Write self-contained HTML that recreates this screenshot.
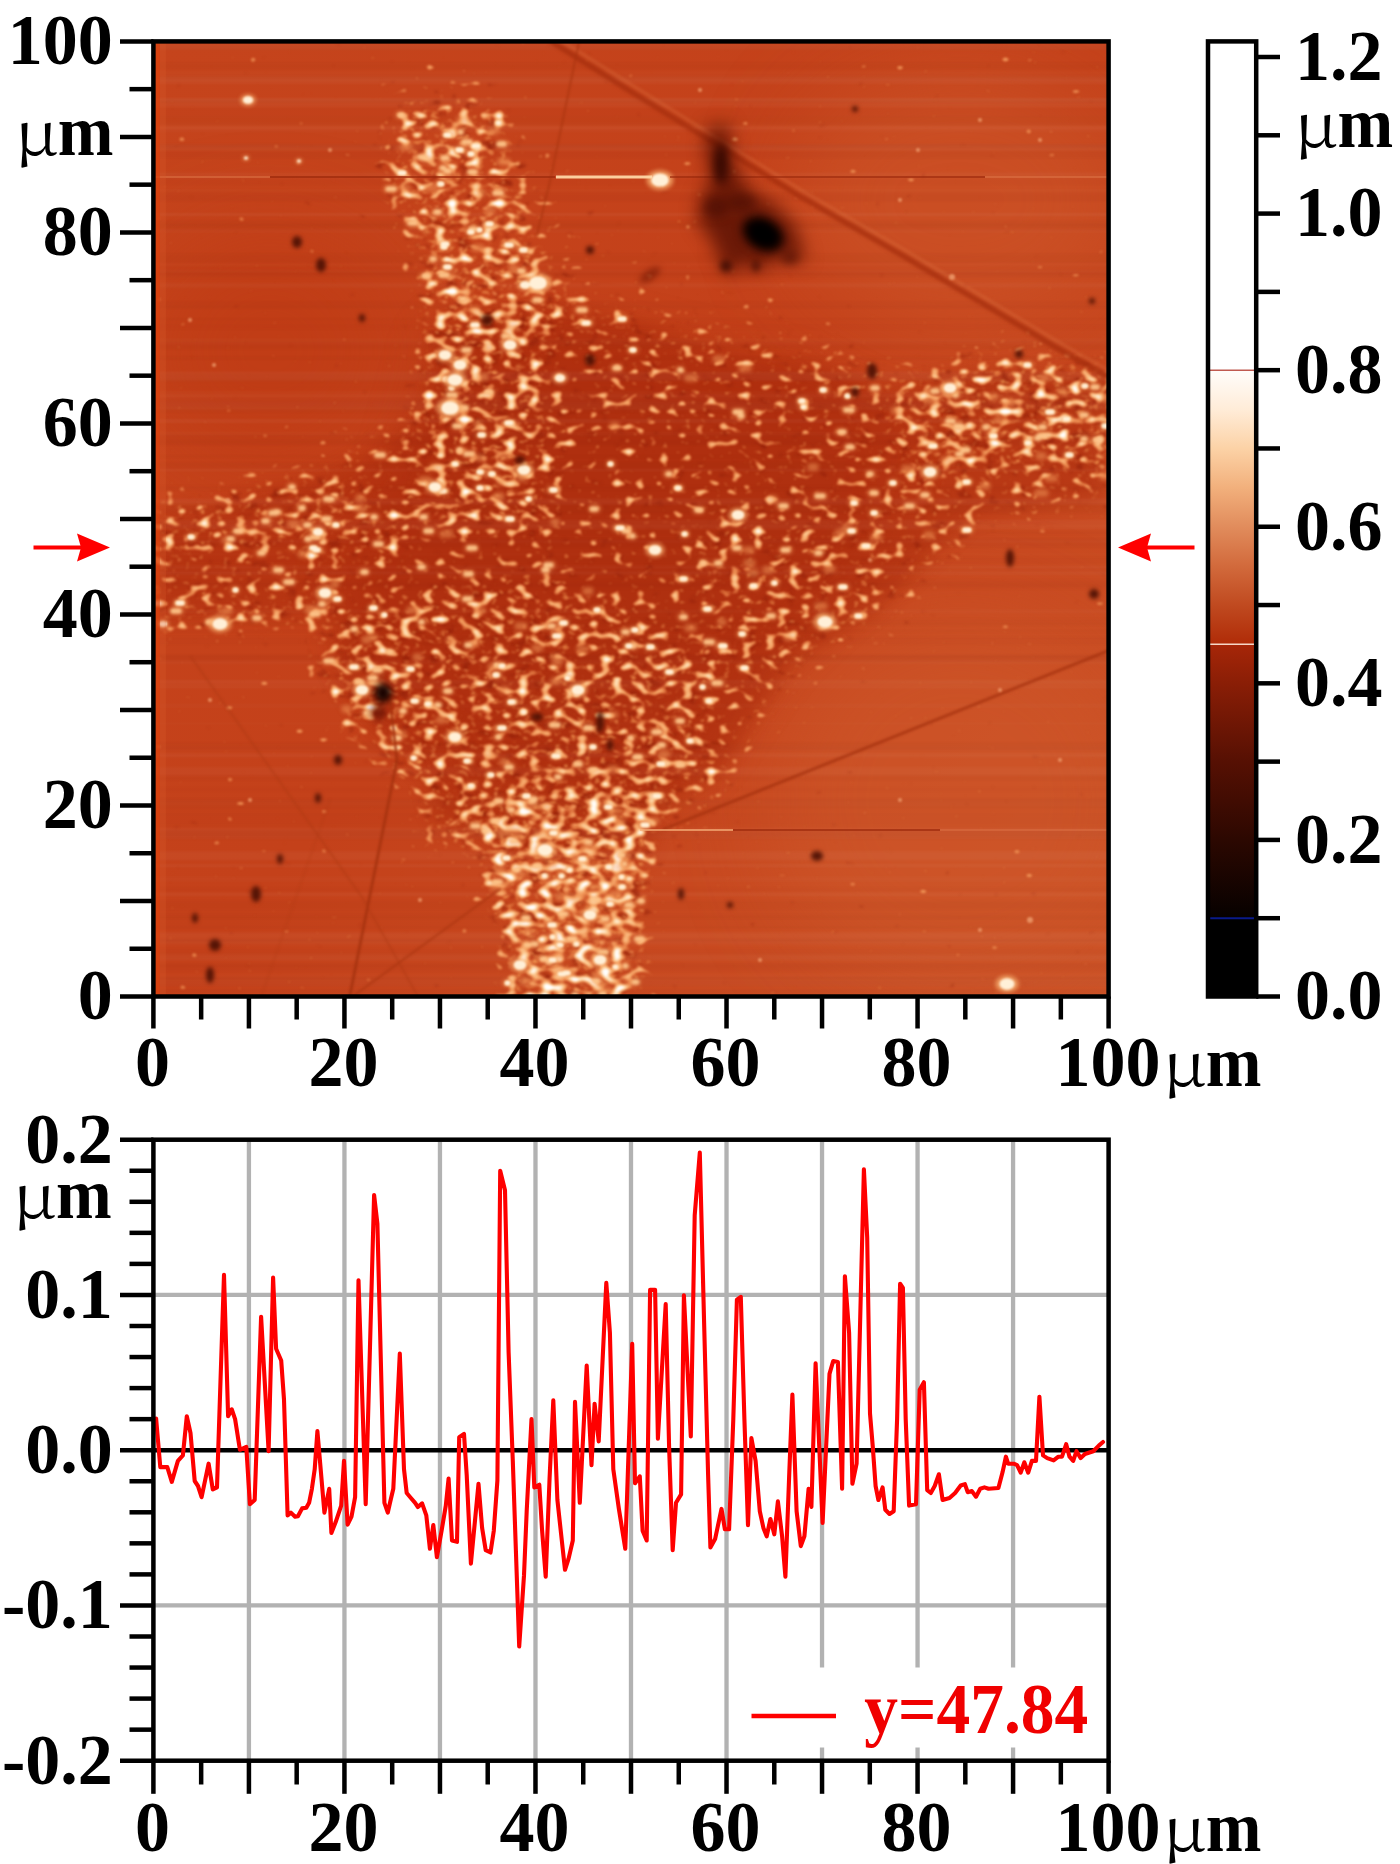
<!DOCTYPE html>
<html><head><meta charset="utf-8"><title>AFM</title>
<style>
html,body{margin:0;padding:0;background:#fff;}
svg{display:block}
text{font-family:"Liberation Serif",serif;font-weight:bold;font-size:70px;fill:#000}
.mu{font-family:"Noto Serif CJK SC","Liberation Serif",serif;font-weight:400}
.r{fill:#f00000}
</style></head><body>
<svg width="1400" height="1864" viewBox="0 0 1400 1864">
<rect width="1400" height="1864" fill="#fff"/>

<defs><clipPath id="ic"><rect x="153.4" y="41.4" width="955.1999999999999" height="955.1"/></clipPath>
<filter id="b1" filterUnits="userSpaceOnUse" x="133.4" y="21.4" width="995.1999999999999" height="995.1" color-interpolation-filters="sRGB"><feGaussianBlur stdDeviation="1.0"/></filter>
<filter id="b15" filterUnits="userSpaceOnUse" x="133.4" y="21.4" width="995.1999999999999" height="995.1" color-interpolation-filters="sRGB"><feGaussianBlur stdDeviation="1.5"/></filter>
<filter id="b2" filterUnits="userSpaceOnUse" x="133.4" y="21.4" width="995.1999999999999" height="995.1" color-interpolation-filters="sRGB"><feGaussianBlur stdDeviation="2.2"/></filter>
<filter id="b3" filterUnits="userSpaceOnUse" x="133.4" y="21.4" width="995.1999999999999" height="995.1" color-interpolation-filters="sRGB"><feGaussianBlur stdDeviation="3.4"/></filter>
<filter id="b5" filterUnits="userSpaceOnUse" x="133.4" y="21.4" width="995.1999999999999" height="995.1" color-interpolation-filters="sRGB"><feGaussianBlur stdDeviation="5"/></filter>
<filter id="b8" filterUnits="userSpaceOnUse" x="133.4" y="21.4" width="995.1999999999999" height="995.1" color-interpolation-filters="sRGB"><feGaussianBlur stdDeviation="9"/></filter>
<filter id="b20" filterUnits="userSpaceOnUse" x="133.4" y="21.4" width="995.1999999999999" height="995.1" color-interpolation-filters="sRGB"><feGaussianBlur stdDeviation="24"/></filter>
<filter id="b40" filterUnits="userSpaceOnUse" x="133.4" y="21.4" width="995.1999999999999" height="995.1" color-interpolation-filters="sRGB"><feGaussianBlur stdDeviation="45"/></filter>
<linearGradient id="bg" x1="0" y1="0" x2="1" y2="1"><stop offset="0" stop-color="#c5441c"/><stop offset="0.5" stop-color="#c4411a"/><stop offset="1" stop-color="#cd5327"/></linearGradient>
<filter id="spots" filterUnits="userSpaceOnUse" x="133.4" y="21.4" width="995.1999999999999" height="995.1" color-interpolation-filters="sRGB">
<feGaussianBlur in="SourceGraphic" stdDeviation="12" result="m"/>
<feTurbulence type="fractalNoise" baseFrequency="0.085 0.125" numOctaves="1" seed="3" result="T"/>
<feColorMatrix in="T" type="matrix" values="0 0 0 0 1  0 0 0 0 1  0 0 0 0 1  1 0 0 0 0" result="N"/>
<feComposite in="N" in2="m" operator="arithmetic" k1="0" k2="3.8" k3="1.140" k4="-2.869" result="S"/>
<feColorMatrix in="S" type="matrix" values="0 0 0 1 0  0 0 0 1 0  0 0 0 1 0  0 0 0 1 0" result="S2"/>
<feComponentTransfer in="S2">
<feFuncR type="table" tableValues="0.816 0.833 0.851 0.868 0.885 0.902 0.915 0.927 0.940 0.951 0.958 0.965 0.973 0.979 0.983 0.987 0.991 0.994 0.996 0.998 1.000 1.000 1.000 1.000 1.000 1.000"/>
<feFuncG type="table" tableValues="0.345 0.376 0.408 0.439 0.471 0.502 0.531 0.561 0.590 0.618 0.643 0.668 0.693 0.720 0.748 0.776 0.805 0.830 0.854 0.878 0.902 0.923 0.944 0.965 0.982 1.000"/>
<feFuncB type="table" tableValues="0.165 0.188 0.212 0.235 0.259 0.282 0.305 0.328 0.351 0.375 0.403 0.430 0.457 0.487 0.521 0.554 0.588 0.631 0.677 0.723 0.769 0.818 0.868 0.918 0.959 1.000"/>
<feFuncA type="table" tableValues="0.000 0.275 0.550 0.667 0.783 0.900 0.927 0.953 0.980 1.000 1.000 1.000 1.000 1.000 1.000 1.000 1.000 1.000 1.000 1.000 1.000 1.000 1.000 1.000 1.000 1.000"/>
</feComponentTransfer>
<feGaussianBlur stdDeviation="1.1"/>
</filter>
<filter id="grains" filterUnits="userSpaceOnUse" x="133.4" y="21.4" width="995.1999999999999" height="995.1" color-interpolation-filters="sRGB">
<feGaussianBlur in="SourceGraphic" stdDeviation="12" result="m"/>
<feTurbulence type="fractalNoise" baseFrequency="0.13 0.2" numOctaves="2" seed="29" result="T"/>
<feColorMatrix in="T" type="matrix" values="0 0 0 0 1  0 0 0 0 1  0 0 0 0 1  0 0 1 0 0" result="N"/>
<feComposite in="N" in2="m" operator="arithmetic" k1="0" k2="3.0" k3="0.900" k4="-2.400" result="S"/>
<feColorMatrix in="S" type="matrix" values="0 0 0 0 0.93  0 0 0 0 0.56  0 0 0 0 0.30  0 0 0 1.1 0"/>
<feGaussianBlur stdDeviation="1.1"/>
</filter>
<filter id="pits" filterUnits="userSpaceOnUse" x="133.4" y="21.4" width="995.1999999999999" height="995.1" color-interpolation-filters="sRGB">
<feGaussianBlur in="SourceGraphic" stdDeviation="12" result="m"/>
<feTurbulence type="fractalNoise" baseFrequency="0.07 0.1" numOctaves="2" seed="17" result="T"/>
<feColorMatrix in="T" type="matrix" values="0 0 0 0 1  0 0 0 0 1  0 0 0 0 1  0 1 0 0 0" result="N"/>
<feComposite in="N" in2="m" operator="arithmetic" k1="0" k2="4.0" k3="1.200" k4="-3.200" result="S"/>
<feColorMatrix in="S" type="matrix" values="0 0 0 0 0.55  0 0 0 0 0.11  0 0 0 0 0.03  0 0 0 0.65 0"/>
<feGaussianBlur stdDeviation="1.2"/>
</filter>
</defs>
<g clip-path="url(#ic)">
<rect x="153.4" y="41.4" width="955.1999999999999" height="955.1" fill="url(#bg)"/>
<g filter="url(#b40)">
<ellipse cx="960" cy="200" rx="170" ry="130" fill="#d05a2c" opacity="0.55"/>
<ellipse cx="960" cy="800" rx="190" ry="190" fill="#d05a2c" opacity="0.5"/>
<ellipse cx="270" cy="350" rx="130" ry="120" fill="#bd3812" opacity="0.55"/>
</g>
<polygon points="435,330 544,303 601,317 630,322 724,350 820,364 891,392 981,371 1104,380 1104,498 972,517 874,613 792,661 760,710 721,773 662,805 648,857 506,857 483,836 434,819 427,777 369,725 333,671 337,617 154,617 154,517 221,508 354,463 430,415" fill="#a6270a" opacity="0.45" filter="url(#b8)"/>
<polygon points="440,330 600,330 820,380 900,420 880,560 780,650 700,760 640,800 520,800 440,740 360,660 340,560 400,470" fill="#a3250a" opacity="0.35" filter="url(#b20)"/>
<g filter="url(#b1)">
<rect x="153.4" y="213.6" width="955" height="1.5" fill="#fff" opacity="0.03"/>
<rect x="153.4" y="926.1" width="955" height="3.0" fill="#5a0d00" opacity="0.02"/>
<rect x="153.4" y="830.5" width="955" height="9.0" fill="#5a0d00" opacity="0.04"/>
<rect x="153.4" y="145.3" width="955" height="3.0" fill="#5a0d00" opacity="0.04"/>
<rect x="153.4" y="745.2" width="955" height="1.5" fill="#fff" opacity="0.02"/>
<rect x="153.4" y="343.6" width="955" height="3.0" fill="#5a0d00" opacity="0.02"/>
<rect x="153.4" y="433.9" width="955" height="2.0" fill="#5a0d00" opacity="0.02"/>
<rect x="153.4" y="189.6" width="955" height="1.5" fill="#fff" opacity="0.03"/>
<rect x="153.4" y="851.3" width="955" height="9.0" fill="#fff" opacity="0.04"/>
<rect x="153.4" y="525.1" width="955" height="4.0" fill="#fff" opacity="0.04"/>
<rect x="153.4" y="270.5" width="955" height="1.5" fill="#fff" opacity="0.03"/>
<rect x="153.4" y="228.8" width="955" height="4.0" fill="#fff" opacity="0.02"/>
<rect x="153.4" y="318.6" width="955" height="1.5" fill="#5a0d00" opacity="0.04"/>
<rect x="153.4" y="828.0" width="955" height="2.0" fill="#fff" opacity="0.04"/>
<rect x="153.4" y="974.7" width="955" height="6.0" fill="#fff" opacity="0.02"/>
<rect x="153.4" y="777.4" width="955" height="3.0" fill="#5a0d00" opacity="0.04"/>
<rect x="153.4" y="932.4" width="955" height="6.0" fill="#fff" opacity="0.04"/>
<rect x="153.4" y="192.8" width="955" height="9.0" fill="#5a0d00" opacity="0.03"/>
<rect x="153.4" y="654.8" width="955" height="6.0" fill="#5a0d00" opacity="0.03"/>
<rect x="153.4" y="948.6" width="955" height="4.0" fill="#5a0d00" opacity="0.02"/>
<rect x="153.4" y="127.0" width="955" height="2.0" fill="#fff" opacity="0.02"/>
<rect x="153.4" y="766.9" width="955" height="9.0" fill="#fff" opacity="0.03"/>
<rect x="153.4" y="565.7" width="955" height="3.0" fill="#fff" opacity="0.03"/>
<rect x="153.4" y="799.6" width="955" height="6.0" fill="#fff" opacity="0.02"/>
<rect x="153.4" y="864.2" width="955" height="3.0" fill="#fff" opacity="0.04"/>
<rect x="153.4" y="774.6" width="955" height="2.0" fill="#5a0d00" opacity="0.02"/>
<rect x="153.4" y="143.8" width="955" height="4.0" fill="#5a0d00" opacity="0.03"/>
<rect x="153.4" y="345.3" width="955" height="4.0" fill="#5a0d00" opacity="0.04"/>
<rect x="153.4" y="878.7" width="955" height="3.0" fill="#fff" opacity="0.02"/>
<rect x="153.4" y="123.2" width="955" height="9.0" fill="#fff" opacity="0.02"/>
<rect x="153.4" y="454.9" width="955" height="3.0" fill="#5a0d00" opacity="0.02"/>
<rect x="153.4" y="640.2" width="955" height="4.0" fill="#5a0d00" opacity="0.02"/>
<rect x="153.4" y="787.5" width="955" height="4.0" fill="#5a0d00" opacity="0.02"/>
<rect x="153.4" y="922.4" width="955" height="1.5" fill="#5a0d00" opacity="0.03"/>
<rect x="153.4" y="469.1" width="955" height="2.0" fill="#fff" opacity="0.04"/>
<rect x="153.4" y="912.4" width="955" height="6.0" fill="#5a0d00" opacity="0.02"/>
<rect x="153.4" y="391.4" width="955" height="9.0" fill="#fff" opacity="0.02"/>
<rect x="153.4" y="435.2" width="955" height="2.0" fill="#5a0d00" opacity="0.04"/>
<rect x="153.4" y="660.5" width="955" height="3.0" fill="#fff" opacity="0.03"/>
<rect x="153.4" y="722.4" width="955" height="2.0" fill="#fff" opacity="0.02"/>
<rect x="153.4" y="305.3" width="955" height="2.0" fill="#5a0d00" opacity="0.04"/>
<rect x="153.4" y="964.0" width="955" height="4.0" fill="#5a0d00" opacity="0.02"/>
<rect x="153.4" y="75.2" width="955" height="9.0" fill="#fff" opacity="0.03"/>
<rect x="153.4" y="263.8" width="955" height="1.5" fill="#fff" opacity="0.03"/>
<rect x="153.4" y="71.6" width="955" height="2.0" fill="#fff" opacity="0.02"/>
<rect x="153.4" y="977.1" width="955" height="1.5" fill="#5a0d00" opacity="0.03"/>
<rect x="153.4" y="915.8" width="955" height="4.0" fill="#5a0d00" opacity="0.04"/>
<rect x="153.4" y="660.1" width="955" height="2.0" fill="#5a0d00" opacity="0.04"/>
<rect x="153.4" y="385.8" width="955" height="2.0" fill="#5a0d00" opacity="0.02"/>
<rect x="153.4" y="116.3" width="955" height="9.0" fill="#5a0d00" opacity="0.04"/>
<rect x="153.4" y="223.6" width="955" height="3.0" fill="#5a0d00" opacity="0.03"/>
<rect x="153.4" y="876.2" width="955" height="3.0" fill="#fff" opacity="0.02"/>
<rect x="153.4" y="684.7" width="955" height="4.0" fill="#fff" opacity="0.03"/>
<rect x="153.4" y="149.4" width="955" height="9.0" fill="#5a0d00" opacity="0.03"/>
<rect x="153.4" y="531.9" width="955" height="2.0" fill="#5a0d00" opacity="0.03"/>
<rect x="153.4" y="584.2" width="955" height="1.5" fill="#5a0d00" opacity="0.03"/>
<rect x="153.4" y="144.5" width="955" height="6.0" fill="#fff" opacity="0.04"/>
<rect x="153.4" y="175.7" width="955" height="9.0" fill="#5a0d00" opacity="0.02"/>
<rect x="153.4" y="282.8" width="955" height="3.0" fill="#fff" opacity="0.03"/>
<rect x="153.4" y="636.9" width="955" height="3.0" fill="#5a0d00" opacity="0.03"/>
<rect x="153.4" y="747.8" width="955" height="3.0" fill="#5a0d00" opacity="0.03"/>
<rect x="153.4" y="220.7" width="955" height="9.0" fill="#5a0d00" opacity="0.04"/>
<rect x="153.4" y="98.4" width="955" height="3.0" fill="#fff" opacity="0.04"/>
<rect x="153.4" y="356.6" width="955" height="3.0" fill="#5a0d00" opacity="0.04"/>
<rect x="153.4" y="939.9" width="955" height="2.0" fill="#5a0d00" opacity="0.03"/>
<rect x="153.4" y="630.7" width="955" height="1.5" fill="#5a0d00" opacity="0.03"/>
<rect x="153.4" y="462.4" width="955" height="6.0" fill="#5a0d00" opacity="0.04"/>
<rect x="153.4" y="951.9" width="955" height="9.0" fill="#5a0d00" opacity="0.02"/>
<rect x="153.4" y="963.0" width="955" height="9.0" fill="#5a0d00" opacity="0.03"/>
<rect x="153.4" y="926.0" width="955" height="2.0" fill="#5a0d00" opacity="0.04"/>
<rect x="153.4" y="338.3" width="955" height="6.0" fill="#fff" opacity="0.02"/>
<rect x="153.4" y="503.8" width="955" height="9.0" fill="#5a0d00" opacity="0.04"/>
<rect x="153.4" y="990.4" width="955" height="2.0" fill="#5a0d00" opacity="0.03"/>
<rect x="153.4" y="213.1" width="955" height="3.0" fill="#fff" opacity="0.03"/>
<rect x="153.4" y="341.9" width="955" height="1.5" fill="#5a0d00" opacity="0.04"/>
<rect x="153.4" y="98.0" width="955" height="9.0" fill="#fff" opacity="0.03"/>
<rect x="153.4" y="703.7" width="955" height="4.0" fill="#fff" opacity="0.02"/>
<rect x="153.4" y="400.8" width="955" height="9.0" fill="#fff" opacity="0.04"/>
<rect x="153.4" y="127.0" width="955" height="1.5" fill="#fff" opacity="0.04"/>
<rect x="153.4" y="829.8" width="955" height="9.0" fill="#fff" opacity="0.03"/>
<rect x="153.4" y="271.6" width="955" height="4.0" fill="#5a0d00" opacity="0.04"/>
<rect x="153.4" y="436.8" width="955" height="9.0" fill="#5a0d00" opacity="0.02"/>
<rect x="153.4" y="798.2" width="955" height="4.0" fill="#5a0d00" opacity="0.02"/>
<rect x="153.4" y="976.7" width="955" height="9.0" fill="#5a0d00" opacity="0.04"/>
<rect x="153.4" y="78.1" width="955" height="3.0" fill="#fff" opacity="0.03"/>
<rect x="153.4" y="579.9" width="955" height="9.0" fill="#5a0d00" opacity="0.03"/>
<rect x="153.4" y="618.8" width="955" height="1.5" fill="#5a0d00" opacity="0.03"/>
<rect x="153.4" y="172.3" width="955" height="6.0" fill="#fff" opacity="0.03"/>
<rect x="153.4" y="486.1" width="955" height="4.0" fill="#5a0d00" opacity="0.03"/>
<rect x="153.4" y="825.5" width="955" height="4.0" fill="#5a0d00" opacity="0.02"/>
<rect x="153.4" y="274.2" width="955" height="4.0" fill="#5a0d00" opacity="0.02"/>
<rect x="153.4" y="498.6" width="955" height="6.0" fill="#fff" opacity="0.04"/>
<rect x="153.4" y="553.1" width="955" height="1.5" fill="#fff" opacity="0.02"/>
<rect x="153.4" y="439.0" width="955" height="6.0" fill="#5a0d00" opacity="0.03"/>
<rect x="153.4" y="253.8" width="955" height="9.0" fill="#5a0d00" opacity="0.04"/>
<rect x="153.4" y="954.4" width="955" height="6.0" fill="#fff" opacity="0.03"/>
<rect x="153.4" y="979.8" width="955" height="6.0" fill="#fff" opacity="0.02"/>
<rect x="153.4" y="939.2" width="955" height="2.0" fill="#5a0d00" opacity="0.04"/>
<rect x="153.4" y="901.2" width="955" height="9.0" fill="#5a0d00" opacity="0.04"/>
<rect x="153.4" y="323.7" width="955" height="6.0" fill="#5a0d00" opacity="0.02"/>
<rect x="153.4" y="654.5" width="955" height="4.0" fill="#5a0d00" opacity="0.03"/>
<rect x="153.4" y="609.4" width="955" height="4.0" fill="#fff" opacity="0.02"/>
<rect x="153.4" y="568.1" width="955" height="6.0" fill="#5a0d00" opacity="0.02"/>
<rect x="153.4" y="519.6" width="955" height="6.0" fill="#fff" opacity="0.03"/>
<rect x="153.4" y="892.9" width="955" height="3.0" fill="#fff" opacity="0.04"/>
<rect x="153.4" y="75.8" width="955" height="4.0" fill="#5a0d00" opacity="0.04"/>
<rect x="153.4" y="373.5" width="955" height="9.0" fill="#5a0d00" opacity="0.03"/>
<rect x="153.4" y="680.0" width="955" height="4.0" fill="#fff" opacity="0.04"/>
<rect x="153.4" y="371.4" width="955" height="9.0" fill="#fff" opacity="0.04"/>
<rect x="153.4" y="830.2" width="955" height="6.0" fill="#5a0d00" opacity="0.02"/>
<rect x="153.4" y="419.0" width="955" height="4.0" fill="#fff" opacity="0.04"/>
<rect x="153.4" y="622.0" width="955" height="3.0" fill="#5a0d00" opacity="0.04"/>
<rect x="153.4" y="748.3" width="955" height="2.0" fill="#fff" opacity="0.02"/>
<rect x="153.4" y="98.9" width="955" height="4.0" fill="#5a0d00" opacity="0.04"/>
<rect x="153.4" y="398.1" width="955" height="9.0" fill="#5a0d00" opacity="0.03"/>
<rect x="153.4" y="144.5" width="955" height="3.0" fill="#5a0d00" opacity="0.02"/>
<rect x="153.4" y="813.1" width="955" height="1.5" fill="#5a0d00" opacity="0.03"/>
<rect x="153.4" y="394.5" width="955" height="3.0" fill="#fff" opacity="0.02"/>
<rect x="153.4" y="306.7" width="955" height="1.5" fill="#5a0d00" opacity="0.03"/>
<rect x="153.4" y="265.7" width="955" height="9.0" fill="#5a0d00" opacity="0.02"/>
<rect x="153.4" y="401.6" width="955" height="3.0" fill="#5a0d00" opacity="0.03"/>
<rect x="153.4" y="45.9" width="955" height="3.0" fill="#5a0d00" opacity="0.04"/>
<rect x="153.4" y="989.2" width="955" height="1.5" fill="#5a0d00" opacity="0.03"/>
<rect x="153.4" y="540.7" width="955" height="1.5" fill="#fff" opacity="0.04"/>
<rect x="153.4" y="887.8" width="955" height="3.0" fill="#5a0d00" opacity="0.03"/>
<rect x="153.4" y="938.5" width="955" height="6.0" fill="#fff" opacity="0.03"/>
<rect x="153.4" y="571.4" width="955" height="3.0" fill="#fff" opacity="0.04"/>
<rect x="153.4" y="62.8" width="955" height="6.0" fill="#5a0d00" opacity="0.04"/>
<rect x="153.4" y="43.5" width="955" height="6.0" fill="#fff" opacity="0.04"/>
<rect x="153.4" y="405.8" width="955" height="6.0" fill="#5a0d00" opacity="0.04"/>
<rect x="153.4" y="742.7" width="955" height="6.0" fill="#5a0d00" opacity="0.04"/>
<rect x="153.4" y="285.9" width="955" height="1.5" fill="#fff" opacity="0.04"/>
<rect x="153.4" y="538.4" width="955" height="9.0" fill="#5a0d00" opacity="0.03"/>
<rect x="153.4" y="107.3" width="955" height="9.0" fill="#5a0d00" opacity="0.02"/>
<rect x="153.4" y="815.3" width="955" height="9.0" fill="#5a0d00" opacity="0.02"/>
<rect x="153.4" y="799.7" width="955" height="9.0" fill="#5a0d00" opacity="0.04"/>
<rect x="153.4" y="431.5" width="955" height="4.0" fill="#fff" opacity="0.02"/>
<rect x="153.4" y="557.7" width="955" height="6.0" fill="#5a0d00" opacity="0.02"/>
<rect x="153.4" y="753.3" width="955" height="4.0" fill="#fff" opacity="0.04"/>
<rect x="153.4" y="301.2" width="955" height="3.0" fill="#5a0d00" opacity="0.03"/>
</g>
<g filter="url(#pits)">
<polygon points="400,60 470,55 540,150 600,200 680,270 760,300 830,330 905,360 1000,335 1130,345 1130,520 1000,540 900,640 800,700 740,800 650,900 640,1020 500,1020 480,880 410,850 400,800 340,750 300,690 300,640 130,640 130,495 330,440 405,390 410,320 395,250 370,180 375,100" fill="#fff" fill-opacity="0.15"/>
<polygon points="400,100 500,100 520,180 540,250 600,290 630,300 730,330 830,345 905,375 1000,350 1130,362 1130,500 990,520 887,623 801,674 767,726 726,794 664,829 647,897 640,1020 510,1020 507,966 493,914 476,863 424,846 417,794 356,739 315,681 320,626 130,626 130,510 200,500 340,452 420,400 425,314 410,246 383,177 390,108" fill="#fff" fill-opacity="0.32"/>
<polygon points="395,100 505,100 525,180 545,260 575,330 430,330 425,314 410,246 385,177 390,108" fill="#fff" fill-opacity="0.69"/>
<polygon points="425,300 540,300 560,420 545,530 425,530 408,440" fill="#fff" fill-opacity="0.62"/>
<polygon points="476,800 660,780 647,897 640,1020 510,1020 507,966 493,914" fill="#fff" fill-opacity="1.00"/>
<polygon points="330,610 520,570 700,640 720,790 480,860 424,846 417,794 356,739 315,681" fill="#fff" fill-opacity="0.52"/>
<polygon points="130,512 330,468 420,500 400,560 130,565" fill="#fff" fill-opacity="0.45"/>
<polygon points="130,592 340,585 330,628 130,628" fill="#fff" fill-opacity="0.48"/>
<polygon points="900,374 1000,354 1130,366 1130,455 900,475" fill="#fff" fill-opacity="0.69"/>
<polygon points="900,475 1130,455 1130,498 990,515 905,560" fill="#fff" fill-opacity="0.22"/>
<polygon points="560,300 730,335 830,350 900,380 900,470 600,430" fill="#fff" fill-opacity="0.14"/>
<polygon points="690,520 880,500 890,600 800,670 700,690" fill="#fff" fill-opacity="0.34"/>
</g>
<g filter="url(#grains)">
<polygon points="400,60 470,55 540,150 600,200 680,270 760,300 830,330 905,360 1000,335 1130,345 1130,520 1000,540 900,640 800,700 740,800 650,900 640,1020 500,1020 480,880 410,850 400,800 340,750 300,690 300,640 130,640 130,495 330,440 405,390 410,320 395,250 370,180 375,100" fill="#fff" fill-opacity="0.15"/>
<polygon points="400,100 500,100 520,180 540,250 600,290 630,300 730,330 830,345 905,375 1000,350 1130,362 1130,500 990,520 887,623 801,674 767,726 726,794 664,829 647,897 640,1020 510,1020 507,966 493,914 476,863 424,846 417,794 356,739 315,681 320,626 130,626 130,510 200,500 340,452 420,400 425,314 410,246 383,177 390,108" fill="#fff" fill-opacity="0.32"/>
<polygon points="395,100 505,100 525,180 545,260 575,330 430,330 425,314 410,246 385,177 390,108" fill="#fff" fill-opacity="0.69"/>
<polygon points="425,300 540,300 560,420 545,530 425,530 408,440" fill="#fff" fill-opacity="0.62"/>
<polygon points="476,800 660,780 647,897 640,1020 510,1020 507,966 493,914" fill="#fff" fill-opacity="1.00"/>
<polygon points="330,610 520,570 700,640 720,790 480,860 424,846 417,794 356,739 315,681" fill="#fff" fill-opacity="0.52"/>
<polygon points="130,512 330,468 420,500 400,560 130,565" fill="#fff" fill-opacity="0.45"/>
<polygon points="130,592 340,585 330,628 130,628" fill="#fff" fill-opacity="0.48"/>
<polygon points="900,374 1000,354 1130,366 1130,455 900,475" fill="#fff" fill-opacity="0.69"/>
<polygon points="900,475 1130,455 1130,498 990,515 905,560" fill="#fff" fill-opacity="0.22"/>
<polygon points="560,300 730,335 830,350 900,380 900,470 600,430" fill="#fff" fill-opacity="0.14"/>
<polygon points="690,520 880,500 890,600 800,670 700,690" fill="#fff" fill-opacity="0.34"/>
</g>
<g filter="url(#spots)">
<polygon points="400,60 470,55 540,150 600,200 680,270 760,300 830,330 905,360 1000,335 1130,345 1130,520 1000,540 900,640 800,700 740,800 650,900 640,1020 500,1020 480,880 410,850 400,800 340,750 300,690 300,640 130,640 130,495 330,440 405,390 410,320 395,250 370,180 375,100" fill="#fff" fill-opacity="0.15"/>
<polygon points="400,100 500,100 520,180 540,250 600,290 630,300 730,330 830,345 905,375 1000,350 1130,362 1130,500 990,520 887,623 801,674 767,726 726,794 664,829 647,897 640,1020 510,1020 507,966 493,914 476,863 424,846 417,794 356,739 315,681 320,626 130,626 130,510 200,500 340,452 420,400 425,314 410,246 383,177 390,108" fill="#fff" fill-opacity="0.32"/>
<polygon points="395,100 505,100 525,180 545,260 575,330 430,330 425,314 410,246 385,177 390,108" fill="#fff" fill-opacity="0.69"/>
<polygon points="425,300 540,300 560,420 545,530 425,530 408,440" fill="#fff" fill-opacity="0.62"/>
<polygon points="476,800 660,780 647,897 640,1020 510,1020 507,966 493,914" fill="#fff" fill-opacity="1.00"/>
<polygon points="330,610 520,570 700,640 720,790 480,860 424,846 417,794 356,739 315,681" fill="#fff" fill-opacity="0.52"/>
<polygon points="130,512 330,468 420,500 400,560 130,565" fill="#fff" fill-opacity="0.45"/>
<polygon points="130,592 340,585 330,628 130,628" fill="#fff" fill-opacity="0.48"/>
<polygon points="900,374 1000,354 1130,366 1130,455 900,475" fill="#fff" fill-opacity="0.69"/>
<polygon points="900,475 1130,455 1130,498 990,515 905,560" fill="#fff" fill-opacity="0.22"/>
<polygon points="560,300 730,335 830,350 900,380 900,470 600,430" fill="#fff" fill-opacity="0.14"/>
<polygon points="690,520 880,500 890,600 800,670 700,690" fill="#fff" fill-opacity="0.34"/>
</g>
<path d="M189 537h4M497 737h2M869 474h3M373 517h3M173 611h7M478 488h4M571 898h3M719 646h6M607 867h4M787 637h3M494 675h4M621 877h3M631 350h4M658 764h6M510 810h3M783 550h6M479 458h3M560 623h6M739 416h3M721 622h2M742 368h6M962 450h6M706 642h7M491 131h5M983 486h4M907 506h6M747 563h5M554 636h7M933 391h5M359 498h2M397 734h6M491 667h3M334 525h4M735 412h7M561 914h6M827 569h5M771 499h3M1025 365h5M578 310h7M440 491h6M441 168h3M576 764h5M469 154h3M445 171h4M683 534h3M314 550h6M579 896h4M587 842h4M550 960h6M551 725h7M468 548h7M500 162h7M532 944h4M407 669h5M600 952h7M863 546h7M956 427h6M512 268h2M494 887h5M259 553h4M747 550h4M1041 427h4M500 833h7M507 519h6M466 454h7M845 410h7M439 720h4M478 230h2M818 606h6M1103 426h5M702 687h2M688 378h6M623 632h4M365 713h4M603 919h5M811 467h4M492 821h5M444 176h5M523 981h5M641 825h7M624 531h5M891 483h4M653 732h7M455 426h6M426 704h4M528 945h7M894 411h2M558 945h4M955 426h6M305 525h4M490 210h2M496 801h5M992 397h3M661 754h6M1039 456h4M469 786h4M460 299h4M539 280h6M568 870h3M614 368h5M821 617h2M585 847h6M579 859h5M291 524h5M399 115h3M667 672h6M550 833h6M500 666h3M595 610h3M300 508h3M583 323h7M499 144h6M654 796h7M1105 398h7M375 670h6M457 150h6M567 678h2M622 856h6M549 925h6M520 478h4M412 758h3M964 530h6M529 806h4M412 701h5M475 248h6M707 701h4M234 590h2M984 427h3M714 683h7M307 539h3M463 350h6M957 454h4M477 610h5M560 876h2M716 359h5M564 973h6M927 535h4M445 691h5M592 509h5M766 570h4M358 509h5M459 450h2M509 702h6M848 531h6M505 884h2M419 157h5M502 690h4M351 667h7M619 319h6M944 460h7M500 482h2M511 830h6M616 528h7M1039 436h7M620 822h2M630 738h2M325 499h7M376 683h4M595 981h4M822 390h4M631 536h2M516 838h5M605 903h6M449 640h2M1026 443h3M501 456h5M633 982h4M422 517h4M611 769h4M1042 378h4M554 522h2M1093 387h5M651 821h5M613 426h3M592 888h3M1038 493h7M590 770h5M496 498h4M505 245h7M489 775h3M603 991h7M535 866h5M439 184h3M847 396h2M544 570h4M553 756h7M472 310h5M574 856h3M619 855h4M751 586h5M591 747h4M575 944h3M535 648h5M275 570h6M546 565h6M365 640h3M465 761h5M519 271h4M409 223h6M581 860h6M460 120h7M506 983h2M688 628h5M1082 415h5M573 995h3M403 188h4M548 962h3M442 158h5M498 870h4M614 967h3M580 649h5M270 513h6M487 392h5M448 395h7M677 721h5M1046 412h7M702 563h3M679 370h2M527 499h3M930 392h3M464 599h6M676 488h4M600 984h2M556 662h3M424 276h5M334 599h5M326 661h7M557 969h3M488 755h6M483 831h4M990 436h5M838 533h5M394 738h5M479 435h5M569 939h7M506 423h7M856 616h6M479 472h4M769 616h5M871 493h5M624 864h2M705 609h6M839 432h5M802 407h3M522 471h5M554 657h4M436 212h4M311 548h5M499 728h6M177 603h7M840 587h6M360 684h2M1048 478h6M301 554h4M608 904h4M559 897h2M621 887h4M313 610h4M537 834h4M852 503h4M667 474h3M544 876h3M527 931h3M499 144h3M362 572h4M451 388h2M955 395h2M321 604h3M610 464h2M635 757h6M1095 440h6M436 705h3M541 959h4M467 645h4M460 408h6M421 622h2M423 158h4M773 583h3M229 539h4M428 188h6M696 510h5M1064 419h6M612 811h6M507 767h5M388 652h3M559 974h7M444 379h2M585 728h6M420 567h4M612 894h6M274 512h4M444 267h6M459 132h2M463 142h7M353 629h3M660 745h4M1061 391h3M716 563h4M575 694h3M1008 403h5M477 424h2M442 244h6M442 247h4M236 531h6M595 975h3M403 147h6M742 668h5M550 490h6M497 496h4M516 870h3M1036 438h3M523 918h5M817 496h7M377 455h7M254 618h5M312 537h6M930 401h3M370 637h4M678 765h6M479 377h6M554 956h6M416 657h3M470 172h6M433 467h5M530 801h4M471 229h5M586 591h4M503 762h3M630 646h5M947 421h6M1083 386h3M334 584h2M509 327h5M285 582h7M487 224h6M387 189h7M549 626h4M648 647h5M469 232h4M453 464h4M816 553h4M557 777h3M556 628h2M371 608h5M410 610h6M680 579h6M495 193h7M518 626h6M780 506h6M626 905h5M399 173h6M208 622h5M370 678h6M512 841h4M375 544h6M681 617h4M627 646h4M490 474h4M930 446h6M524 796h5M874 537h5M443 534h7M1103 476h7M452 412h2M345 709h3M600 994h4M528 285h7M435 212h3M495 882h6M383 615h2M504 858h5M472 826h6M1083 439h3M624 966h2M751 573h4M521 250h6M636 939h6M522 712h3M495 665h2M525 945h4M633 630h4M613 715h2M480 193h2M264 521h4M549 866h5M435 213h3M847 447h5M606 807h5M290 487h3M552 937h3M964 482h5M639 901h3M422 480h6M472 325h7M530 799h5M497 123h3M427 160h4M1067 455h5M535 300h6M845 528h3M224 611h5M465 574h6M922 495h5M432 259h3M504 336h4M554 681h4M426 531h6M518 874h5M441 275h7M734 548h5M997 420h3M905 469h6M311 614h7M872 388h5M872 513h4M619 867h3M473 146h6M486 348h4M541 807h6M688 741h5M225 540h6M401 711h3M800 401h4M357 682h5M308 609h5M740 634h4M323 519h6M592 900h7M330 499h3M445 135h6" stroke="#f2995a" stroke-width="7.5" stroke-linecap="round" fill="none" opacity="0.55" filter="url(#b2)"/>
<path d="M190 537h3M498 737h1M869 474h2M373 517h2M173 611h6M479 488h3M720 646h5M607 867h3M495 675h3M621 877h2M631 350h3M659 764h5M510 810h2M783 550h5M561 623h5M740 416h2M963 450h5M706 642h6M907 506h5M554 636h6M933 391h4M334 525h3M735 412h6M561 914h5M1025 365h4M579 310h6M441 491h5M442 168h2M576 764h4M470 154h2M446 171h3M684 534h2M314 550h5M587 842h3M550 960h5M552 725h6M469 548h6M533 944h3M408 669h4M600 952h6M863 546h6M957 427h5M260 553h3M1041 427h3M507 519h5M466 454h6M846 410h6M479 230h1M1104 426h4M702 687h1M624 632h3M366 713h3M603 919h4M493 821h4M642 825h6M624 531h4M891 483h3M654 732h6M455 426h5M427 704h3M558 945h3M956 426h5M306 525h3M497 801h4M470 786h3M461 299h3M569 870h2M615 368h4M580 859h4M400 115h2M667 672h5M551 833h5M501 666h2M596 610h2M301 508h2M583 323h6M499 144h5M655 796h6M375 670h5M457 150h5M567 678h1M550 925h5M413 758h2M964 530h5M413 701h4M707 701h3M235 590h1M985 427h2M714 683h6M307 539h2M464 350h5M958 454h3M561 876h1M564 973h5M446 691h4M592 509h4M459 450h1M510 702h5M849 531h5M420 157h4M351 667h6M619 319h5M617 528h6M1039 436h6M630 738h1M326 499h6M595 981h3M822 390h3M632 536h1M1027 443h2M634 982h3M422 517h3M1093 387h4M591 770h4M506 245h6M489 775h2M535 866h4M439 184h2M847 396h1M544 570h3M553 756h6M620 855h3M752 586h4M591 747h3M575 944h2M276 570h5M546 565h5M466 761h4M520 271h3M410 223h5M581 860h5M507 983h1M1082 415h4M574 995h2M548 962h2M443 158h4M615 967h2M271 513h5M487 392h4M449 395h6M678 721h4M1047 412h6M702 563h2M680 370h1M528 499h2M465 599h5M677 488h3M424 276h4M335 599h4M326 661h6M484 831h3M991 436h4M395 738h4M480 435h4M569 939h6M506 423h6M856 616h5M479 472h3M769 616h4M872 493h4M624 864h1M705 609h5M840 432h4M803 407h2M436 212h3M311 548h4M499 728h5M177 603h6M840 587h5M361 684h1M609 904h3M621 887h3M853 503h3M668 474h2M544 876h2M500 144h2M363 572h3M451 388h1M955 395h1M321 604h2M610 464h1M635 757h5M1095 440h5M437 705h2M542 959h3M467 645h3M461 408h5M421 622h1M423 158h3M773 583h2M229 539h3M697 510h4M1064 419h5M507 767h4M389 652h2M559 974h6M445 379h1M586 728h5M420 567h3M275 512h3M445 267h5M460 132h1M464 142h6M353 629h2M660 745h3M717 563h3M575 694h2M442 244h5M442 247h3M236 531h5M742 668h4M551 490h5M516 870h2M1037 438h2M524 918h4M817 496h6M377 455h6M255 618h4M313 537h5M678 765h5M470 172h5M531 801h3M471 229h4M630 646h4M948 421h5M1083 386h2M286 582h6M487 224h5M388 189h6M550 626h3M648 647h4M469 232h3M454 464h3M817 553h3M557 777h2M371 608h4M681 579h5M495 193h6M781 506h5M627 905h4M399 173h5M208 622h4M370 678h5M512 841h3M376 544h5M682 617h3M627 646h3M490 474h3M930 446h5M524 796h4M601 994h3M528 285h6M495 882h5M383 615h1M504 858h4M473 826h5M1083 439h2M625 966h1M521 250h5M637 939h5M523 712h2M496 665h1M526 945h3M633 630h3M264 521h3M848 447h4M606 807h4M291 487h2M552 937h2M965 482h4M640 901h2M472 325h6M531 799h4M497 123h2M1067 455h4M535 300h5M466 574h5M923 495h4M432 259h2M504 336h3M426 531h5M441 275h6M735 548h4M312 614h6M873 388h4M873 513h3M473 146h5M689 741h4M402 711h2M800 401h3M357 682h4M741 634h3M324 519h5M593 900h6M445 135h5" stroke="#fdc78c" stroke-width="5" stroke-linecap="round" fill="none" opacity="0.95" filter="url(#b15)"/>
<path d="M190 537h2M479 488h2M721 646h4M608 867h2M495 675h2M621 877h1M632 350h2M659 764h4M562 623h3M555 636h4M335 525h2M1026 365h3M441 491h3M470 154h2M684 534h1M315 550h3M551 960h3M409 669h3M864 546h4M508 519h4M479 230h1M1104 426h3M702 687h1M643 825h4M892 483h2M427 704h2M559 945h2M470 786h2M569 870h1M581 859h3M668 672h3M552 833h3M501 666h2M596 610h2M584 323h4M655 796h4M458 150h3M567 678h1M550 925h4M413 758h1M965 530h4M413 701h3M708 701h2M235 590h1M561 876h1M565 973h3M510 702h3M850 531h3M352 667h4M620 319h4M618 528h4M822 390h2M1027 443h2M507 245h4M490 775h2M440 184h2M847 396h1M554 756h4M752 586h3M592 747h2M576 944h1M466 761h2M507 983h1M615 967h1M1048 412h4M528 499h1M677 488h2M336 599h3M992 436h3M480 435h3M507 423h4M857 616h3M479 472h2M706 609h3M803 407h1M312 548h3M500 728h4M178 603h4M841 587h4M609 904h2M621 887h2M853 503h2M544 876h1M451 388h1M610 464h1M774 583h1M1065 419h3M560 974h4M445 379h1M446 267h3M576 694h1M443 244h4M443 247h2M743 668h3M552 490h3M1084 386h2M488 224h3M649 647h3M470 232h2M454 464h2M372 608h3M682 579h3M400 173h4M628 646h2M491 474h2M931 446h4M525 796h3M384 615h1M505 858h3M522 250h3M523 712h1M634 630h2M607 807h3M552 937h1M965 482h3M473 325h4M498 123h1M1068 455h3M873 513h2M474 146h4M689 741h2M801 401h2M741 634h2M446 135h3" stroke="#fff0d8" stroke-width="4.5" stroke-linecap="round" fill="none" opacity="1" filter="url(#b1)"/>
<g filter="url(#b2)" fill="#f8b070" opacity="0.8"><ellipse cx="538" cy="283" rx="13.3" ry="9.8"/><ellipse cx="455" cy="380" rx="11.4" ry="8.4"/><ellipse cx="450" cy="408" rx="13.3" ry="9.8"/><ellipse cx="525" cy="285" rx="7.6" ry="5.6"/><ellipse cx="460" cy="365" rx="9.5" ry="7.0"/><ellipse cx="524" cy="470" rx="9.5" ry="7.0"/><ellipse cx="435" cy="487" rx="9.5" ry="7.0"/><ellipse cx="445" cy="355" rx="9.5" ry="7.0"/><ellipse cx="510" cy="345" rx="9.5" ry="7.0"/><ellipse cx="660" cy="180" rx="13.3" ry="9.8"/><ellipse cx="248" cy="100" rx="7.6" ry="5.6"/><ellipse cx="246" cy="158" rx="3.0" ry="2.2"/><ellipse cx="299" cy="161" rx="3.0" ry="2.2"/><ellipse cx="220" cy="624" rx="11.4" ry="8.4"/><ellipse cx="163" cy="624" rx="5.7" ry="4.2"/><ellipse cx="825" cy="622" rx="11.4" ry="8.4"/><ellipse cx="930" cy="472" rx="9.5" ry="7.0"/><ellipse cx="1007" cy="984" rx="11.4" ry="8.4"/><ellipse cx="362" cy="690" rx="9.5" ry="7.0"/><ellipse cx="578" cy="690" rx="9.5" ry="7.0"/><ellipse cx="455" cy="737" rx="9.5" ry="7.0"/><ellipse cx="950" cy="388" rx="9.5" ry="7.0"/><ellipse cx="738" cy="515" rx="9.5" ry="7.0"/><ellipse cx="655" cy="550" rx="9.5" ry="7.0"/><ellipse cx="318" cy="532" rx="7.6" ry="5.6"/><ellipse cx="325" cy="593" rx="9.5" ry="7.0"/><ellipse cx="560" cy="378" rx="7.6" ry="5.6"/><ellipse cx="545" cy="850" rx="11.4" ry="8.4"/><ellipse cx="590" cy="915" rx="9.5" ry="7.0"/><ellipse cx="520" cy="965" rx="9.5" ry="7.0"/><ellipse cx="600" cy="960" rx="9.5" ry="7.0"/></g>
<g filter="url(#b1)">
<ellipse cx="538" cy="283" rx="8.8" ry="6.6" fill="#fff0d8"/>
<ellipse cx="455" cy="380" rx="7.5" ry="5.7" fill="#fff0d8"/>
<ellipse cx="450" cy="408" rx="8.8" ry="6.6" fill="#fff0d8"/>
<ellipse cx="525" cy="285" rx="5.0" ry="3.8" fill="#fff0d8"/>
<ellipse cx="460" cy="365" rx="6.2" ry="4.8" fill="#fff0d8"/>
<ellipse cx="524" cy="470" rx="6.2" ry="4.8" fill="#fff0d8"/>
<ellipse cx="435" cy="487" rx="6.2" ry="4.8" fill="#fff0d8"/>
<ellipse cx="445" cy="355" rx="6.2" ry="4.8" fill="#fff0d8"/>
<ellipse cx="510" cy="345" rx="6.2" ry="4.8" fill="#fff0d8"/>
<ellipse cx="660" cy="180" rx="8.8" ry="6.6" fill="#fff0d8"/>
<ellipse cx="248" cy="100" rx="5.0" ry="3.8" fill="#fff0d8"/>
<ellipse cx="246" cy="158" rx="2.0" ry="1.5" fill="#fff0d8"/>
<ellipse cx="299" cy="161" rx="2.0" ry="1.5" fill="#fff0d8"/>
<ellipse cx="220" cy="624" rx="7.5" ry="5.7" fill="#fff0d8"/>
<ellipse cx="163" cy="624" rx="3.8" ry="2.8" fill="#fff0d8"/>
<ellipse cx="825" cy="622" rx="7.5" ry="5.7" fill="#fff0d8"/>
<ellipse cx="930" cy="472" rx="6.2" ry="4.8" fill="#fff0d8"/>
<ellipse cx="1007" cy="984" rx="7.5" ry="5.7" fill="#fff0d8"/>
<ellipse cx="362" cy="690" rx="6.2" ry="4.8" fill="#fff0d8"/>
<ellipse cx="578" cy="690" rx="6.2" ry="4.8" fill="#fff0d8"/>
<ellipse cx="455" cy="737" rx="6.2" ry="4.8" fill="#fff0d8"/>
<ellipse cx="950" cy="388" rx="6.2" ry="4.8" fill="#fff0d8"/>
<ellipse cx="738" cy="515" rx="6.2" ry="4.8" fill="#fff0d8"/>
<ellipse cx="655" cy="550" rx="6.2" ry="4.8" fill="#fff0d8"/>
<ellipse cx="318" cy="532" rx="5.0" ry="3.8" fill="#fff0d8"/>
<ellipse cx="325" cy="593" rx="6.2" ry="4.8" fill="#fff0d8"/>
<ellipse cx="560" cy="378" rx="5.0" ry="3.8" fill="#fff0d8"/>
<ellipse cx="545" cy="850" rx="7.5" ry="5.7" fill="#fff0d8"/>
<ellipse cx="590" cy="915" rx="6.2" ry="4.8" fill="#fff0d8"/>
<ellipse cx="520" cy="965" rx="6.2" ry="4.8" fill="#fff0d8"/>
<ellipse cx="600" cy="960" rx="6.2" ry="4.8" fill="#fff0d8"/>
</g>
<g fill="none" stroke-linecap="round" filter="url(#b1)">
<path d="M552 42L630 91L801 197L900 254L1057 348L1110 378" stroke="#a62f0e" stroke-width="5.5" opacity="0.75" filter="url(#b1)"/>
<path d="M557 38L635 87L806 193L905 250L1062 344L1115 374" stroke="#dc7040" stroke-width="3" opacity="0.4" filter="url(#b1)"/>
<path d="M579 42L551 177L537 235" stroke="#a8340f" stroke-width="2.2" opacity="0.6"/>
<path d="M349 1000L397 760L390 700" stroke="#a3300e" stroke-width="3" opacity="0.75"/>
<path d="M352 997L500 889" stroke="#a8340f" stroke-width="2.4" opacity="0.5"/>
<path d="M191 657L362 897L420 1000" stroke="#b03a14" stroke-width="2.2" opacity="0.45"/>
<path d="M1110 650L664 829" stroke="#a3300e" stroke-width="3" opacity="0.65"/>
<path d="M260 1000L330 800" stroke="#b03a14" stroke-width="1.8" opacity="0.3"/>
</g>
<g fill="none">
<path d="M270 177H555" stroke="#9c2a0c" stroke-width="2" opacity="0.7"/>
<path d="M670 177H985" stroke="#9c2a0c" stroke-width="2" opacity="0.65"/>
<path d="M155 177H270M985 177H1108" stroke="#e0774a" stroke-width="2" opacity="0.5"/>
<path d="M556 177H652" stroke="#ffd7a6" stroke-width="3" opacity="0.95"/>
<path d="M733 830H940" stroke="#9c2a0c" stroke-width="2.2" opacity="0.7"/>
<path d="M640 830H733" stroke="#f7b07a" stroke-width="2" opacity="0.7"/>
<path d="M940 830H1108" stroke="#e0774a" stroke-width="2" opacity="0.4"/>
</g>
<g filter="url(#b8)">
<path d="M708 128L728 124L732 160L748 190L775 205L795 225L806 262L790 258L770 262L756 272L745 262L730 276L720 262L712 240L698 222L700 200L712 180L706 150Z" fill="#5a1204" opacity="0.85"/>
</g>
<g filter="url(#b5)">
<ellipse cx="763" cy="234" rx="22" ry="16" fill="#0a0100" transform="rotate(30 763 234)"/>
<ellipse cx="721" cy="164" rx="7" ry="20" fill="#300701" opacity="0.9"/>
<ellipse cx="716" cy="207" rx="12" ry="10" fill="#4a0e03" opacity="0.6"/>
<ellipse cx="742" cy="202" rx="14" ry="9" fill="#4a0e03" opacity="0.55"/>
<ellipse cx="790" cy="258" rx="9" ry="7" fill="#4a0e03" opacity="0.6"/>
</g>
<g filter="url(#b3)">
<ellipse cx="763" cy="234" rx="13" ry="9" fill="#000" transform="rotate(30 763 234)"/>
<ellipse cx="726" cy="266" rx="6" ry="6" fill="#3a0a02" opacity="0.85"/>
<ellipse cx="756" cy="266" rx="4" ry="6" fill="#3a0a02" opacity="0.7"/>
<ellipse cx="650" cy="275" rx="12" ry="5" fill="#7a1b06" opacity="0.7" transform="rotate(-35 650 275)"/>
<ellipse cx="383" cy="693" rx="9" ry="10" fill="#1c0300"/>
<ellipse cx="378" cy="712" rx="8" ry="8" fill="#6a1505" opacity="0.7"/>
</g>
<g filter="url(#b2)">
<ellipse cx="297" cy="242" rx="5" ry="6" fill="#4a0f03" opacity="0.9"/>
<ellipse cx="321" cy="265" rx="5" ry="7" fill="#4a0f03" opacity="0.9"/>
<ellipse cx="362" cy="318" rx="3" ry="4" fill="#4a0f03" opacity="0.9"/>
<ellipse cx="855" cy="109" rx="3" ry="3" fill="#4a0f03" opacity="0.9"/>
<ellipse cx="872" cy="371" rx="5" ry="8" fill="#4a0f03" opacity="0.9"/>
<ellipse cx="855" cy="392" rx="4" ry="5" fill="#4a0f03" opacity="0.9"/>
<ellipse cx="1019" cy="354" rx="4" ry="4" fill="#4a0f03" opacity="0.9"/>
<ellipse cx="1010" cy="558" rx="4" ry="9" fill="#4a0f03" opacity="0.9"/>
<ellipse cx="1094" cy="594" rx="5" ry="5" fill="#4a0f03" opacity="0.9"/>
<ellipse cx="817" cy="856" rx="6" ry="5" fill="#4a0f03" opacity="0.9"/>
<ellipse cx="681" cy="894" rx="3" ry="6" fill="#4a0f03" opacity="0.9"/>
<ellipse cx="537" cy="717" rx="6" ry="4" fill="#4a0f03" opacity="0.9"/>
<ellipse cx="600" cy="722" rx="4" ry="11" fill="#4a0f03" opacity="0.9"/>
<ellipse cx="338" cy="760" rx="4" ry="5" fill="#4a0f03" opacity="0.9"/>
<ellipse cx="318" cy="798" rx="3" ry="5" fill="#4a0f03" opacity="0.9"/>
<ellipse cx="280" cy="859" rx="3" ry="5" fill="#4a0f03" opacity="0.9"/>
<ellipse cx="256" cy="894" rx="5" ry="8" fill="#4a0f03" opacity="0.9"/>
<ellipse cx="215" cy="945" rx="6" ry="6" fill="#4a0f03" opacity="0.9"/>
<ellipse cx="195" cy="918" rx="3" ry="5" fill="#4a0f03" opacity="0.9"/>
<ellipse cx="210" cy="975" rx="4" ry="8" fill="#4a0f03" opacity="0.9"/>
<ellipse cx="730" cy="905" rx="3" ry="3" fill="#4a0f03" opacity="0.9"/>
<ellipse cx="1092" cy="301" rx="3" ry="3" fill="#4a0f03" opacity="0.9"/>
<ellipse cx="590" cy="250" rx="4" ry="4" fill="#4a0f03" opacity="0.9"/>
<ellipse cx="610" cy="745" rx="3" ry="6" fill="#4a0f03" opacity="0.9"/>
<ellipse cx="520" cy="460" rx="5" ry="4" fill="#4a0f03" opacity="0.9"/>
<ellipse cx="590" cy="360" rx="5" ry="6" fill="#4a0f03" opacity="0.9"/>
<ellipse cx="487" cy="320" rx="6" ry="6" fill="#4a0f03" opacity="0.9"/>
</g>
<g filter="url(#b1)">
<circle cx="952" cy="277" r="3" fill="#f0a070" opacity="0.8"/>
<circle cx="918" cy="150" r="2" fill="#f0a070" opacity="0.8"/>
<circle cx="900" cy="200" r="2" fill="#f0a070" opacity="0.8"/>
<circle cx="980" cy="120" r="2" fill="#f0a070" opacity="0.8"/>
<circle cx="1040" cy="140" r="2" fill="#f0a070" opacity="0.8"/>
<circle cx="700" cy="90" r="2" fill="#f0a070" opacity="0.8"/>
<circle cx="1000" cy="690" r="2" fill="#f0a070" opacity="0.8"/>
<circle cx="1030" cy="920" r="3" fill="#f0a070" opacity="0.8"/>
<circle cx="900" cy="800" r="2" fill="#f0a070" opacity="0.8"/>
<circle cx="870" cy="560" r="2" fill="#f0a070" opacity="0.8"/>
<circle cx="228" cy="500" r="2" fill="#f0a070" opacity="0.8"/>
<circle cx="190" cy="320" r="2" fill="#f0a070" opacity="0.8"/>
<circle cx="214" cy="365" r="2" fill="#f0a070" opacity="0.8"/>
<circle cx="330" cy="150" r="2" fill="#f0a070" opacity="0.8"/>
<circle cx="250" cy="800" r="2" fill="#f0a070" opacity="0.8"/>
<circle cx="420" cy="900" r="2" fill="#f0a070" opacity="0.8"/>
<circle cx="210" cy="700" r="2" fill="#f0a070" opacity="0.8"/>
<circle cx="980" cy="930" r="2" fill="#f0a070" opacity="0.8"/>
<circle cx="1060" cy="760" r="2" fill="#f0a070" opacity="0.8"/>
<circle cx="760" cy="960" r="2" fill="#f0a070" opacity="0.8"/>
</g>
<rect x="153.4" y="41.4" width="6.5" height="955.1" fill="#dd420c" opacity="0.75"/>
<rect x="159.9" y="41.4" width="6" height="955.1" fill="#d8582a" opacity="0.3"/>
</g>
<g stroke="#000" stroke-width="4.5" fill="none" stroke-linecap="butt">
<rect x="153.4" y="41.4" width="955.1999999999999" height="955.1"/>
<line x1="120" y1="996.50" x2="153.4" y2="996.50"/>
<line x1="129.5" y1="948.75" x2="153.4" y2="948.75"/>
<line x1="120" y1="900.99" x2="153.4" y2="900.99"/>
<line x1="129.5" y1="853.24" x2="153.4" y2="853.24"/>
<line x1="120" y1="805.48" x2="153.4" y2="805.48"/>
<line x1="129.5" y1="757.73" x2="153.4" y2="757.73"/>
<line x1="120" y1="709.97" x2="153.4" y2="709.97"/>
<line x1="129.5" y1="662.21" x2="153.4" y2="662.21"/>
<line x1="120" y1="614.46" x2="153.4" y2="614.46"/>
<line x1="129.5" y1="566.70" x2="153.4" y2="566.70"/>
<line x1="120" y1="518.95" x2="153.4" y2="518.95"/>
<line x1="129.5" y1="471.19" x2="153.4" y2="471.19"/>
<line x1="120" y1="423.44" x2="153.4" y2="423.44"/>
<line x1="129.5" y1="375.68" x2="153.4" y2="375.68"/>
<line x1="120" y1="327.93" x2="153.4" y2="327.93"/>
<line x1="129.5" y1="280.17" x2="153.4" y2="280.17"/>
<line x1="120" y1="232.42" x2="153.4" y2="232.42"/>
<line x1="129.5" y1="184.66" x2="153.4" y2="184.66"/>
<line x1="120" y1="136.91" x2="153.4" y2="136.91"/>
<line x1="129.5" y1="89.15" x2="153.4" y2="89.15"/>
<line x1="120" y1="41.40" x2="153.4" y2="41.40"/>
<line x1="153.40" y1="996.5" x2="153.40" y2="1028.5"/>
<line x1="201.16" y1="996.5" x2="201.16" y2="1019.5"/>
<line x1="248.92" y1="996.5" x2="248.92" y2="1028.5"/>
<line x1="296.68" y1="996.5" x2="296.68" y2="1019.5"/>
<line x1="344.44" y1="996.5" x2="344.44" y2="1028.5"/>
<line x1="392.20" y1="996.5" x2="392.20" y2="1019.5"/>
<line x1="439.96" y1="996.5" x2="439.96" y2="1028.5"/>
<line x1="487.72" y1="996.5" x2="487.72" y2="1019.5"/>
<line x1="535.48" y1="996.5" x2="535.48" y2="1028.5"/>
<line x1="583.24" y1="996.5" x2="583.24" y2="1019.5"/>
<line x1="631.00" y1="996.5" x2="631.00" y2="1028.5"/>
<line x1="678.76" y1="996.5" x2="678.76" y2="1019.5"/>
<line x1="726.52" y1="996.5" x2="726.52" y2="1028.5"/>
<line x1="774.28" y1="996.5" x2="774.28" y2="1019.5"/>
<line x1="822.04" y1="996.5" x2="822.04" y2="1028.5"/>
<line x1="869.80" y1="996.5" x2="869.80" y2="1019.5"/>
<line x1="917.56" y1="996.5" x2="917.56" y2="1028.5"/>
<line x1="965.32" y1="996.5" x2="965.32" y2="1019.5"/>
<line x1="1013.08" y1="996.5" x2="1013.08" y2="1028.5"/>
<line x1="1060.84" y1="996.5" x2="1060.84" y2="1019.5"/>
<line x1="1108.60" y1="996.5" x2="1108.60" y2="1028.5"/>
</g>
<text transform="translate(112.8 64.2) scale(1 1.025)" text-anchor="end">100</text>
<text transform="translate(112.8 255.2) scale(1 1.025)" text-anchor="end">80</text>
<text transform="translate(112.8 446.2) scale(1 1.025)" text-anchor="end">60</text>
<text transform="translate(112.8 637.3) scale(1 1.025)" text-anchor="end">40</text>
<text transform="translate(112.8 828.3) scale(1 1.025)" text-anchor="end">20</text>
<text transform="translate(112.8 1019.3) scale(1 1.025)" text-anchor="end">0</text>
<text class="mu" transform="translate(14.5 155) scale(1 0.87)">μ</text>
<text transform="translate(57.8 155) scale(0.955 1.025)">m</text>
<text transform="translate(152.4 1086) scale(1 1.025)" text-anchor="middle">0</text>
<text transform="translate(343.4 1086) scale(1 1.025)" text-anchor="middle">20</text>
<text transform="translate(534.5 1086) scale(1 1.025)" text-anchor="middle">40</text>
<text transform="translate(725.5 1086) scale(1 1.025)" text-anchor="middle">60</text>
<text transform="translate(916.6 1086) scale(1 1.025)" text-anchor="middle">80</text>
<text transform="translate(1108.1 1086) scale(1 1.025)" text-anchor="middle">100</text>
<text class="mu" transform="translate(1162.5 1086) scale(1 0.87)">μ</text>
<text transform="translate(1205.8 1086) scale(0.955 1.025)">m</text>
<defs><linearGradient id="cb" gradientUnits="userSpaceOnUse" x1="0" y1="996.5" x2="0" y2="57"><stop offset="0.0000" stop-color="#000"/><stop offset="0.0833" stop-color="#000"/><stop offset="0.0842" stop-color="#060100"/><stop offset="0.1667" stop-color="#2c0801"/><stop offset="0.2500" stop-color="#561003"/><stop offset="0.3333" stop-color="#8a1e06"/><stop offset="0.3742" stop-color="#a62608"/><stop offset="0.3758" stop-color="#b02c08"/><stop offset="0.4167" stop-color="#c04a20"/><stop offset="0.4583" stop-color="#d26a3c"/><stop offset="0.5000" stop-color="#e18c5c"/><stop offset="0.5417" stop-color="#f2b07c"/><stop offset="0.5833" stop-color="#fcd2a6"/><stop offset="0.6250" stop-color="#ffecd8"/><stop offset="0.6667" stop-color="#fffdfb"/><stop offset="0.6675" stop-color="#fff"/><stop offset="1.0000" stop-color="#fff"/></linearGradient></defs>
<rect x="1208.0" y="41.4" width="48.200000000000045" height="955.1" fill="url(#cb)"/>
<line x1="1208.0" x2="1256.2" y1="918.2" y2="918.2" stroke="#0a1a8a" stroke-width="2"/>
<line x1="1208.0" x2="1256.2" y1="644.2" y2="644.2" stroke="#f6d8c8" stroke-width="1.5"/>
<line x1="1208.0" x2="1256.2" y1="370.2" y2="370.2" stroke="#c05a50" stroke-width="1.5"/>
<g stroke="#000" stroke-width="4.5" fill="none">
<rect x="1208.0" y="41.4" width="48.200000000000045" height="955.1"/>
<line x1="1256.2" x2="1280" y1="996.50" y2="996.50"/>
<line x1="1256.2" x2="1280" y1="918.21" y2="918.21"/>
<line x1="1256.2" x2="1280" y1="839.92" y2="839.92"/>
<line x1="1256.2" x2="1280" y1="761.62" y2="761.62"/>
<line x1="1256.2" x2="1280" y1="683.33" y2="683.33"/>
<line x1="1256.2" x2="1280" y1="605.04" y2="605.04"/>
<line x1="1256.2" x2="1280" y1="526.75" y2="526.75"/>
<line x1="1256.2" x2="1280" y1="448.46" y2="448.46"/>
<line x1="1256.2" x2="1280" y1="370.17" y2="370.17"/>
<line x1="1256.2" x2="1280" y1="291.88" y2="291.88"/>
<line x1="1256.2" x2="1280" y1="213.58" y2="213.58"/>
<line x1="1256.2" x2="1280" y1="135.29" y2="135.29"/>
<line x1="1256.2" x2="1280" y1="57.00" y2="57.00"/>
</g>
<text transform="translate(1295 1019.3) scale(1 1.025)">0.0</text>
<text transform="translate(1295 862.7) scale(1 1.025)">0.2</text>
<text transform="translate(1295 706.1) scale(1 1.025)">0.4</text>
<text transform="translate(1295 549.5) scale(1 1.025)">0.6</text>
<text transform="translate(1295 393.0) scale(1 1.025)">0.8</text>
<text transform="translate(1295 236.4) scale(1 1.025)">1.0</text>
<text transform="translate(1295 79.8) scale(1 1.025)">1.2</text>
<text class="mu" transform="translate(1294.1 147.3) scale(1 0.87)">μ</text>
<text transform="translate(1337.4 147.3) scale(0.955 1.025)">m</text>
<line x1="33.5" y1="547.4" x2="81" y2="547.4" stroke="#f00" stroke-width="4.0"/>
<path d="M110 547.4 L77 533.4 L81 547.4 L77 561.4 Z" fill="#f00"/>
<line x1="1194.5" y1="547.4" x2="1147" y2="547.4" stroke="#f00" stroke-width="4.0"/>
<path d="M1118 547.4 L1151 533.4 L1147 547.4 L1151 561.4 Z" fill="#f00"/>
<g stroke="#b2b2b2" stroke-width="4.3" fill="none">
<line x1="248.92" x2="248.92" y1="1139.7" y2="1760.7"/>
<line x1="344.44" x2="344.44" y1="1139.7" y2="1760.7"/>
<line x1="439.96" x2="439.96" y1="1139.7" y2="1760.7"/>
<line x1="535.48" x2="535.48" y1="1139.7" y2="1760.7"/>
<line x1="631.00" x2="631.00" y1="1139.7" y2="1760.7"/>
<line x1="726.52" x2="726.52" y1="1139.7" y2="1760.7"/>
<line x1="822.04" x2="822.04" y1="1139.7" y2="1760.7"/>
<line x1="917.56" x2="917.56" y1="1139.7" y2="1760.7"/>
<line x1="1013.08" x2="1013.08" y1="1139.7" y2="1760.7"/>
<line x1="153.4" x2="1108.6" y1="1294.95" y2="1294.95"/>
<line x1="153.4" x2="1108.6" y1="1605.45" y2="1605.45"/>
</g>
<line x1="153.4" x2="1108.6" y1="1450.20" y2="1450.20" stroke="#000" stroke-width="4.5"/>
<rect x="737" y="1667.5" width="366" height="80" fill="#fff"/>
<path d="M156.1 1418.5 L160.3 1467.1 L167.3 1467.1 L171.8 1481.9 L177.9 1460.9 L182.9 1455.4 L186.8 1416.3 L190.5 1433.0 L194.7 1481.0 L198.0 1486.0 L201.6 1497.2 L208.6 1463.7 L212.8 1489.4 L217.0 1487.4 L224.0 1274.8 L228.1 1416.3 L231.8 1409.3 L235.1 1419.1 L239.9 1449.8 L246.3 1447.0 L249.9 1504.2 L254.7 1500.0 L261.1 1316.7 L268.6 1451.2 L273.1 1277.6 L276.1 1348.7 L281.2 1360.5 L284.0 1399.5 L287.6 1515.4 L290.9 1512.6 L295.1 1516.7 L297.9 1516.2 L302.1 1508.4 L306.3 1507.8 L309.1 1502.8 L311.9 1488.8 L314.7 1469.3 L317.4 1431.1 L324.4 1512.6 L329.2 1488.8 L331.4 1532.9 L335.6 1522.3 L341.2 1505.6 L344.0 1460.9 L347.6 1524.6 L351.5 1516.7 L355.1 1497.2 L358.5 1280.4 L365.7 1504.2 L374.1 1195.0 L377.4 1223.7 L384.4 1502.8 L387.8 1512.6 L390.0 1502.8 L393.3 1488.8 L399.8 1353.5 L404.0 1469.3 L406.7 1493.0 L410.9 1498.0 L415.1 1502.8 L417.9 1507.0 L422.1 1503.4 L426.3 1515.4 L429.9 1548.8 L433.3 1525.1 L436.9 1557.2 L441.6 1530.7 L445.8 1505.6 L448.6 1478.5 L452.0 1540.5 L457.0 1541.9 L459.2 1437.2 L464.0 1433.9 L466.7 1474.9 L470.9 1563.6 L478.5 1483.8 L482.1 1527.9 L485.7 1550.2 L490.5 1552.5 L493.8 1530.7 L497.4 1480.5 L500.2 1170.7 L505.0 1190.2 L508.6 1352.1 L512.8 1460.9 L519.2 1646.5 L524.0 1575.4 L526.7 1511.2 L531.5 1419.1 L534.3 1487.4 L539.3 1484.7 L542.1 1530.7 L545.7 1576.7 L549.6 1477.7 L553.3 1400.4 L557.4 1500.0 L565.0 1569.8 L568.6 1558.6 L572.8 1540.5 L575.0 1401.8 L579.8 1502.8 L586.7 1365.5 L591.5 1465.1 L594.6 1403.7 L598.7 1441.4 L606.3 1282.9 L609.9 1332.6 L613.3 1469.3 L618.8 1508.4 L625.3 1548.8 L632.2 1343.7 L635.0 1483.3 L639.8 1476.3 L642.6 1530.7 L646.7 1540.5 L650.1 1289.9 L655.1 1289.9 L657.9 1438.6 L665.7 1304.1 L669.1 1447.0 L672.7 1550.2 L676.0 1502.8 L681.1 1494.4 L683.9 1295.4 L690.8 1436.4 L694.7 1215.3 L699.8 1152.6 L704.0 1318.6 L708.1 1474.9 L710.4 1547.4 L715.1 1539.1 L721.5 1508.9 L724.9 1529.3 L729.1 1529.3 L733.3 1419.1 L736.9 1299.6 L740.8 1296.8 L744.4 1419.1 L748.0 1525.1 L751.4 1438.0 L755.6 1460.9 L759.8 1511.2 L763.4 1527.9 L766.7 1536.3 L770.4 1519.0 L774.3 1534.3 L777.9 1501.4 L782.1 1536.3 L785.4 1576.7 L789.1 1477.7 L792.4 1394.5 L796.6 1511.2 L800.8 1546.1 L804.4 1536.3 L808.6 1488.8 L811.4 1507.0 L815.6 1363.3 L822.6 1522.9 L829.5 1373.9 L833.2 1361.0 L837.9 1361.9 L842.1 1488.8 L844.9 1276.2 L849.1 1332.6 L852.4 1483.8 L856.6 1463.7 L863.9 1169.3 L867.2 1237.7 L870.0 1413.5 L872.8 1447.0 L875.6 1486.0 L878.4 1500.0 L882.6 1487.4 L885.3 1509.8 L889.5 1514.0 L893.7 1511.2 L897.1 1419.1 L900.1 1283.7 L902.9 1287.9 L905.7 1419.1 L909.1 1505.6 L916.0 1504.2 L919.7 1389.8 L923.9 1382.2 L927.2 1490.2 L930.8 1493.0 L934.7 1486.0 L938.9 1474.3 L942.6 1500.0 L949.5 1498.0 L955.1 1493.0 L960.7 1485.5 L964.9 1484.1 L967.7 1492.2 L971.9 1491.1 L976.0 1496.7 L980.2 1488.8 L984.4 1487.4 L988.6 1488.8 L998.4 1488.0 L1002.6 1472.1 L1005.9 1456.7 L1008.1 1463.7 L1013.7 1463.7 L1017.1 1465.1 L1020.7 1472.7 L1024.3 1462.3 L1028.2 1472.7 L1031.9 1460.9 L1036.0 1460.9 L1039.4 1396.7 L1043.0 1455.4 L1047.2 1458.1 L1053.6 1460.4 L1058.4 1456.7 L1062.0 1456.7 L1066.2 1444.2 L1069.5 1456.7 L1073.2 1460.9 L1076.5 1451.2 L1080.7 1458.1 L1084.9 1454.0 L1093.3 1451.2 L1098.8 1445.6 L1103.0 1442.0" fill="none" stroke="#ff0000" stroke-width="4.1" stroke-linejoin="round" stroke-linecap="round"/>
<line x1="751.5" x2="836" y1="1716" y2="1716" stroke="#f00" stroke-width="4.6"/>
<text transform="translate(864.3 1732.7) scale(1 1.065)" class="r" style="font-size:67.5px">y=47.84</text>
<g stroke="#000" stroke-width="4.5" fill="none">
<rect x="153.4" y="1139.7" width="955.1999999999999" height="621.0"/>
<line x1="120" y1="1760.70" x2="153.4" y2="1760.70"/>
<line x1="129.5" y1="1729.65" x2="153.4" y2="1729.65"/>
<line x1="129.5" y1="1698.60" x2="153.4" y2="1698.60"/>
<line x1="129.5" y1="1667.55" x2="153.4" y2="1667.55"/>
<line x1="129.5" y1="1636.50" x2="153.4" y2="1636.50"/>
<line x1="120" y1="1605.45" x2="153.4" y2="1605.45"/>
<line x1="129.5" y1="1574.40" x2="153.4" y2="1574.40"/>
<line x1="129.5" y1="1543.35" x2="153.4" y2="1543.35"/>
<line x1="129.5" y1="1512.30" x2="153.4" y2="1512.30"/>
<line x1="129.5" y1="1481.25" x2="153.4" y2="1481.25"/>
<line x1="120" y1="1450.20" x2="153.4" y2="1450.20"/>
<line x1="129.5" y1="1419.15" x2="153.4" y2="1419.15"/>
<line x1="129.5" y1="1388.10" x2="153.4" y2="1388.10"/>
<line x1="129.5" y1="1357.05" x2="153.4" y2="1357.05"/>
<line x1="129.5" y1="1326.00" x2="153.4" y2="1326.00"/>
<line x1="120" y1="1294.95" x2="153.4" y2="1294.95"/>
<line x1="129.5" y1="1263.90" x2="153.4" y2="1263.90"/>
<line x1="129.5" y1="1232.85" x2="153.4" y2="1232.85"/>
<line x1="129.5" y1="1201.80" x2="153.4" y2="1201.80"/>
<line x1="129.5" y1="1170.75" x2="153.4" y2="1170.75"/>
<line x1="120" y1="1139.70" x2="153.4" y2="1139.70"/>
<line x1="153.40" y1="1760.7" x2="153.40" y2="1793.8"/>
<line x1="201.16" y1="1760.7" x2="201.16" y2="1784.5"/>
<line x1="248.92" y1="1760.7" x2="248.92" y2="1793.8"/>
<line x1="296.68" y1="1760.7" x2="296.68" y2="1784.5"/>
<line x1="344.44" y1="1760.7" x2="344.44" y2="1793.8"/>
<line x1="392.20" y1="1760.7" x2="392.20" y2="1784.5"/>
<line x1="439.96" y1="1760.7" x2="439.96" y2="1793.8"/>
<line x1="487.72" y1="1760.7" x2="487.72" y2="1784.5"/>
<line x1="535.48" y1="1760.7" x2="535.48" y2="1793.8"/>
<line x1="583.24" y1="1760.7" x2="583.24" y2="1784.5"/>
<line x1="631.00" y1="1760.7" x2="631.00" y2="1793.8"/>
<line x1="678.76" y1="1760.7" x2="678.76" y2="1784.5"/>
<line x1="726.52" y1="1760.7" x2="726.52" y2="1793.8"/>
<line x1="774.28" y1="1760.7" x2="774.28" y2="1784.5"/>
<line x1="822.04" y1="1760.7" x2="822.04" y2="1793.8"/>
<line x1="869.80" y1="1760.7" x2="869.80" y2="1784.5"/>
<line x1="917.56" y1="1760.7" x2="917.56" y2="1793.8"/>
<line x1="965.32" y1="1760.7" x2="965.32" y2="1784.5"/>
<line x1="1013.08" y1="1760.7" x2="1013.08" y2="1793.8"/>
<line x1="1060.84" y1="1760.7" x2="1060.84" y2="1784.5"/>
<line x1="1108.60" y1="1760.7" x2="1108.60" y2="1793.8"/>
</g>
<text transform="translate(112.8 1162.5) scale(1 1.025)" text-anchor="end">0.2</text>
<text transform="translate(112.8 1317.8) scale(1 1.025)" text-anchor="end">0.1</text>
<text transform="translate(112.8 1473.0) scale(1 1.025)" text-anchor="end">0.0</text>
<text transform="translate(112.8 1628.2) scale(1 1.025)" text-anchor="end">-0.1</text>
<text transform="translate(112.8 1783.5) scale(1 1.025)" text-anchor="end">-0.2</text>
<text class="mu" transform="translate(12.6 1217.5) scale(1 0.87)">μ</text>
<text transform="translate(55.9 1217.5) scale(0.955 1.025)">m</text>
<text transform="translate(152.4 1851) scale(1 1.025)" text-anchor="middle">0</text>
<text transform="translate(343.4 1851) scale(1 1.025)" text-anchor="middle">20</text>
<text transform="translate(534.5 1851) scale(1 1.025)" text-anchor="middle">40</text>
<text transform="translate(725.5 1851) scale(1 1.025)" text-anchor="middle">60</text>
<text transform="translate(916.6 1851) scale(1 1.025)" text-anchor="middle">80</text>
<text transform="translate(1108.1 1851) scale(1 1.025)" text-anchor="middle">100</text>
<text class="mu" transform="translate(1162.5 1851) scale(1 0.87)">μ</text>
<text transform="translate(1205.8 1851) scale(0.955 1.025)">m</text>
</svg></body></html>
